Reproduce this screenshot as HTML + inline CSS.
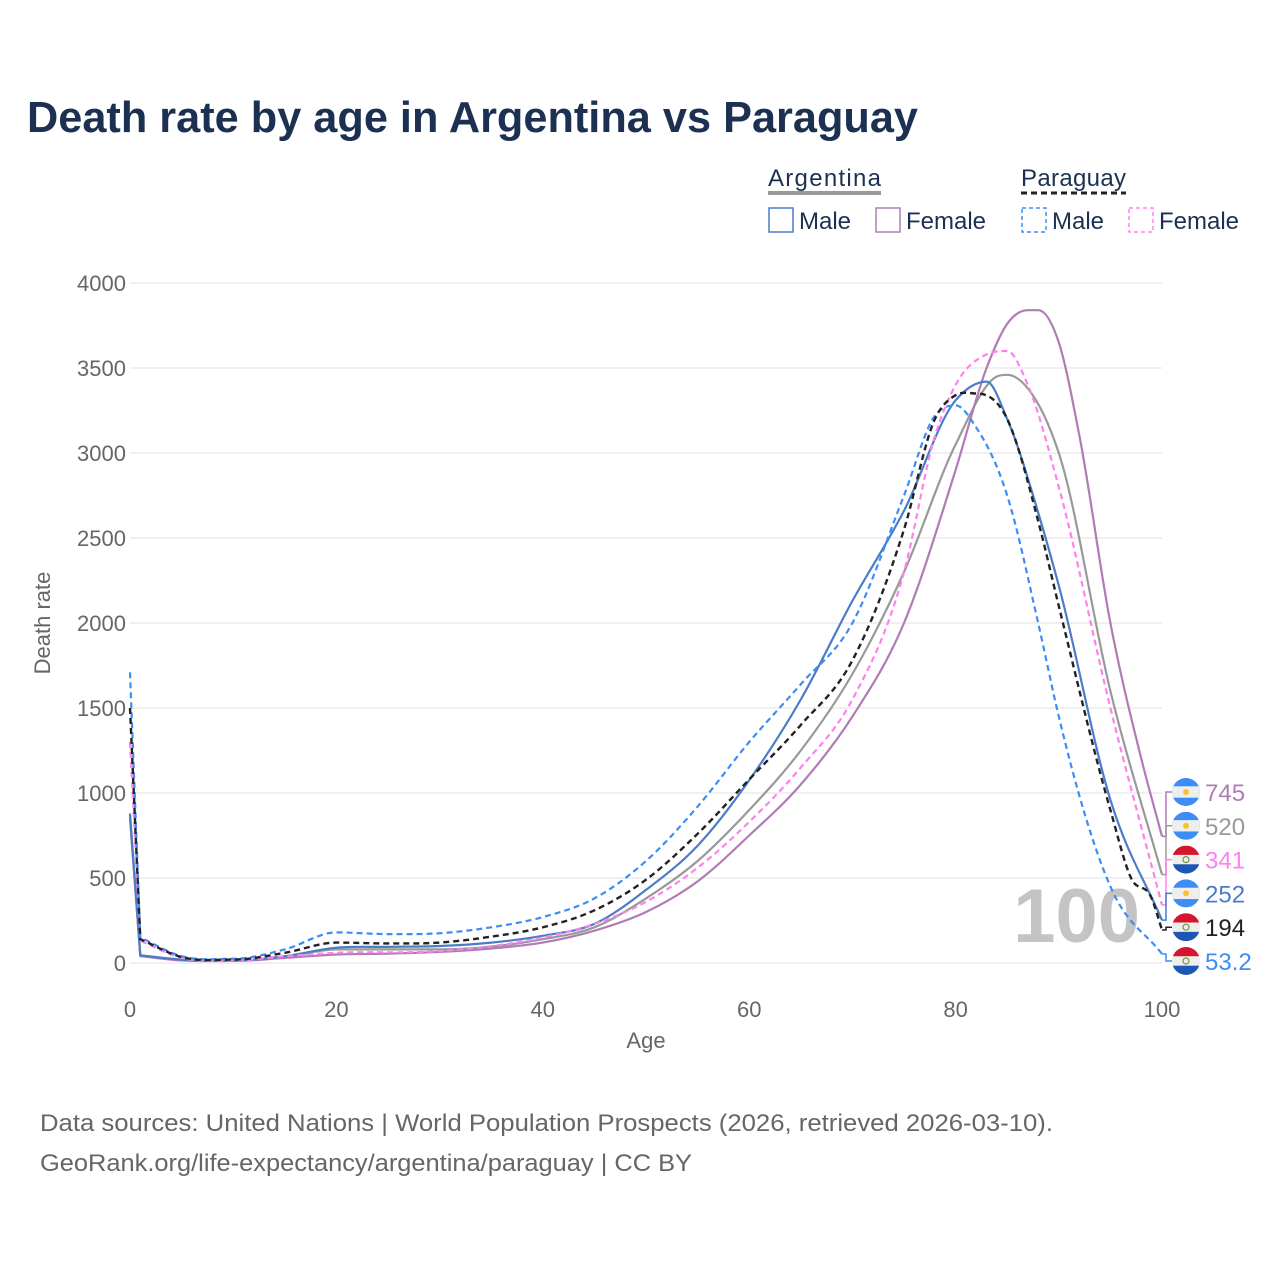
<!DOCTYPE html>
<html><head><meta charset="utf-8"><style>
body{margin:0;background:#fff;font-family:"Liberation Sans",sans-serif;}
#wrap{position:relative;width:1280px;height:1280px;overflow:hidden;}
</style></head><body>
<div id="wrap">
<svg id="chart" width="1280" height="1280" xmlns="http://www.w3.org/2000/svg" font-family="Liberation Sans, sans-serif">
<text x="27" y="132" font-size="44" font-weight="bold" fill="#1c3152" textLength="891" lengthAdjust="spacingAndGlyphs">Death rate by age in Argentina vs Paraguay</text>
<g>
<text x="768" y="186" font-size="24" fill="#1c3152" textLength="113">Argentina</text>
<line x1="768" y1="193" x2="881" y2="193" stroke="#999" stroke-width="4"/>
<text x="1021" y="186" font-size="24" fill="#1c3152" textLength="105">Paraguay</text>
<line x1="1021" y1="193" x2="1126" y2="193" stroke="#222" stroke-width="3" stroke-dasharray="6,4"/>
<g><rect x="769" y="208" width="24" height="24" fill="none" stroke="#4a7cc9" stroke-width="1.5"/><text x="799" y="229" font-size="24" fill="#1c3152">Male</text></g>
<g><rect x="876" y="208" width="24" height="24" fill="none" stroke="#b07cb5" stroke-width="1.5"/><text x="906" y="229" font-size="24" fill="#1c3152">Female</text></g>
<g><rect x="1022" y="208" width="24" height="24" fill="none" stroke="#3d8df5" stroke-width="1.5" stroke-dasharray="4,3"/><text x="1052" y="229" font-size="24" fill="#1c3152">Male</text></g>
<g><rect x="1129" y="208" width="24" height="24" fill="none" stroke="#ff80ee" stroke-width="1.5" stroke-dasharray="4,3"/><text x="1159" y="229" font-size="24" fill="#1c3152">Female</text></g>
</g>
<g id="grid"></g>
<text x="1140" y="942" font-size="76" font-weight="bold" fill="#c4c4c4" text-anchor="end">100</text>
<g id="series"></g>
<g id="labels"></g>
<text x="646" y="1048" font-size="22" fill="#666" text-anchor="middle">Age</text>
<text transform="translate(50,623) rotate(-90)" font-size="22" fill="#666" text-anchor="middle">Death rate</text>
<text x="40" y="1131" font-size="24" fill="#666" textLength="1013" lengthAdjust="spacingAndGlyphs">Data sources: United Nations | World Population Prospects (2026, retrieved 2026-03-10).</text>
<text x="40" y="1171" font-size="24" fill="#666" textLength="652" lengthAdjust="spacingAndGlyphs">GeoRank.org/life-expectancy/argentina/paraguay | CC BY</text>
</svg>
</div>
<script>
const xTicks=[0,20,40,60,80,100];
const yTicks=[0,500,1000,1500,2000,2500,3000,3500,4000];
const arMaleAges=[0,1,5,10,15,20,25,30,35,40,45,50,55,60,65,70,75,80,83,85,88,90,95,100];
const arMaleVals=[880,45,20,15,40,90,95,100,120,160,230,430,690,1075,1550,2130,2660,3310,3420,3200,2650,2220,960,252];
const arFemaleAges=[0,1,5,10,15,20,25,30,35,40,45,50,55,60,65,70,75,80,83,85,87,88,90,92,95,98,100];
const arFemaleVals=[850,40,15,12,30,50,55,65,85,120,190,300,480,750,1050,1450,2000,2900,3500,3760,3840,3840,3650,3100,2000,1200,745];
const arTotalAges=[0,1,5,10,15,20,30,40,45,50,55,60,65,70,75,80,84,85,87,90,95,100];
const arTotalVals=[860,45,18,14,35,80,80,140,210,380,600,900,1250,1700,2300,3050,3450,3460,3380,3000,1600,520];
const pyMaleAges=[0,1,5,10,15,20,25,30,35,40,45,50,55,60,65,70,75,78,80,82,85,88,90,95,100];
const pyMaleVals=[1710,150,40,25,80,180,170,175,210,270,380,600,920,1300,1640,2000,2750,3220,3280,3150,2750,2000,1450,450,53.2];
const pyTotalAges=[0,1,5,10,15,20,25,30,35,40,45,50,55,60,65,70,75,78,80,82,85,88,90,95,97,99,100];
const pyTotalVals=[1500,140,35,20,60,120,115,120,155,210,310,490,760,1080,1400,1780,2550,3200,3340,3350,3200,2600,2100,900,500,380,194];
const pyFemaleAges=[0,1,5,10,15,20,30,40,45,50,55,60,65,70,75,78,80,83,85,87,90,95,100];
const pyFemaleVals=[1300,130,30,15,40,60,70,150,230,360,560,830,1150,1550,2300,3100,3400,3580,3600,3400,2800,1500,341];
const endLabels=["745","520","341","252","194","53.2"];
const endValues=[745,520,341,252,194,53.2];

const NS="http://www.w3.org/2000/svg";
const X0=130,X1=1162,Y0=963,Y1=283;
function xs(a){return X0+(X1-X0)*a/100;}
function ys(v){return Y0-(Y0-Y1)*v/4000;}
function mk(tag,attrs,parent){const e=document.createElementNS(NS,tag);for(const k in attrs)e.setAttribute(k,attrs[k]);parent.appendChild(e);return e;}
const grid=document.getElementById('grid');
yTicks.forEach(t=>{
  const l=mk('line',{x1:X0,x2:X1,y1:ys(t),y2:ys(t),stroke:'#e6e6e6','stroke-width':1.2},grid);
  
  
  const tx=mk('text',{x:126,y:ys(t)+8,'font-size':22,fill:'#666','text-anchor':'end'},grid);
  tx.textContent=t;
  
  
});
xTicks.forEach(t=>{
  const tx=mk('text',{x:xs(t),y:1017,'font-size':22,fill:'#666','text-anchor':'middle'},grid);
  tx.textContent=t;
  
  
});
function pathFor(ages,vals){
  const p=ages.map((a,i)=>[xs(a),ys(vals[i])]);
  let d=`M${p[0][0]},${p[0][1]} L${p[1][0]},${p[1][1]}`;
  const n=p.length;
  const sl=[];for(let i=0;i<n-1;i++)sl.push((p[i+1][1]-p[i][1])/(p[i+1][0]-p[i][0]));
  const m=new Array(n).fill(0);
  for(let i=2;i<n-1;i++){
    const a=sl[i-1],b=sl[i];
    if(a*b<=0)m[i]=0;else{const h0=p[i][0]-p[i-1][0],h1=p[i+1][0]-p[i][0];m[i]=(a*h1+b*h0)/(h0+h1);}
  }
  m[1]=sl[1];m[n-1]=sl[n-2];
  for(let i=1;i<n-1;i++){
    const h=(p[i+1][0]-p[i][0])/3;
    d+=` C${p[i][0]+h},${p[i][1]+m[i]*h} ${p[i+1][0]-h},${p[i+1][1]-m[i+1]*h} ${p[i+1][0]},${p[i+1][1]}`;
  }
  return d;
}
const series=document.getElementById('series');
const defs=[
 [arTotalAges,arTotalVals,'#999','',2.2,'line-argentina-total'],
 [arFemaleAges,arFemaleVals,'#b07cb5','',2.2,'line-argentina-female'],
 [arMaleAges,arMaleVals,'#4a7cc9','',2.2,'line-argentina-male'],
 [pyFemaleAges,pyFemaleVals,'#ff80ee','6,4',2.2,'line-paraguay-female'],
 [pyMaleAges,pyMaleVals,'#3d8df5','6,4',2.2,'line-paraguay-male'],
 [pyTotalAges,pyTotalVals,'#222','6,4',2.4,'line-paraguay-total']
];
defs.forEach(s=>{
  const e=mk('path',{d:pathFor(s[0],s[1]),fill:'none',stroke:s[2],'stroke-width':s[4],'stroke-dasharray':s[3]},series);
  
  
});
const labels=document.getElementById('labels');
const lcols=['#b07cb5','#999','#ff80ee','#4a7cc9','#222','#3d8df5'];
const flags=['ar','ar','py','ar','py','py'];
endLabels.forEach((t,i)=>{
  const ly=792+i*33.8;
  const c=mk('path',{d:`M1162,${ys(endValues[i])} L1166,${ys(endValues[i])} L1166,${ly} L1172,${ly}`,fill:'none',stroke:lcols[i],'stroke-width':1.5},labels);
  
  
  const g=mk('g',{},labels);
  
  
  const cx=1186,r=14;
  const cp='cp'+i;
  const cl=mk('clipPath',{id:cp},g);mk('circle',{cx:cx,cy:ly,r:r},cl);
  const gg=mk('g',{'clip-path':`url(#${cp})`},g);
  if(flags[i]==='ar'){
    mk('rect',{x:cx-r,y:ly-r,width:2*r,height:2*r,fill:'#3d8df5'},gg);
    mk('rect',{x:cx-r,y:ly-r/3-1,width:2*r,height:2*r/3+2,fill:'#eee'},gg);
    mk('circle',{cx:cx,cy:ly,r:3,fill:'#f7c230'},gg);
  }else{
    mk('rect',{x:cx-r,y:ly-r,width:2*r,height:2*r/3,fill:'#d5152e'},gg);
    mk('rect',{x:cx-r,y:ly-r/3,width:2*r,height:2*r/3,fill:'#eee'},gg);
    mk('rect',{x:cx-r,y:ly+r/3,width:2*r,height:2*r/3,fill:'#1d57b4'},gg);
    mk('circle',{cx:cx,cy:ly,r:3,fill:'none',stroke:'#6a9a3a','stroke-width':1.2},gg);
  }
  const tx=mk('text',{x:1205,y:ly+9,'font-size':24,fill:lcols[i]},labels);
  tx.textContent=t;
  
  
});
</script>
</body></html>
